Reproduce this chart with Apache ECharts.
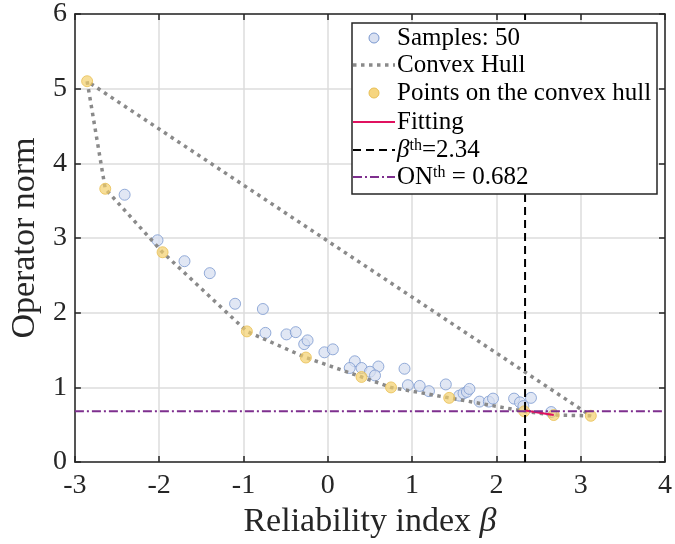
<!DOCTYPE html>
<html>
<head>
<meta charset="utf-8">
<script src="https://cdn.jsdelivr.net/npm/echarts@6/dist/echarts.min.js"></script>
<style>
html,body{margin:0;padding:0;background:#fff;}
#chart{width:675px;height:544px;}
</style>
</head>
<body>
<div id="chart"></div>
<script>
// ---- data ----
var xTicks = [-3, -2, -1, 0, 1, 2, 3, 4];
var yTicks = [0, 1, 2, 3, 4, 5, 6];

var samplesX = [-2.41, -2.02, -1.70, -1.40, -1.10, -0.77, -0.74, -0.49, -0.38, -0.28, -0.24, -0.04, 0.06, 0.32, 0.26, 0.40, 0.60, 0.50, 0.56, 0.91, 0.95, 1.09, 1.20, 1.40, 1.56, 1.61, 1.65, 1.68, 1.80, 1.91, 1.96, 2.21, 2.28, 2.32, 2.41, 2.65];
var samplesY = [3.58, 2.97, 2.69, 2.53, 2.12, 2.05, 1.73, 1.71, 1.74, 1.58, 1.63, 1.47, 1.51, 1.35, 1.26, 1.26, 1.28, 1.21, 1.16, 1.25, 1.03, 1.02, 0.95, 1.04, 0.89, 0.92, 0.94, 0.98, 0.81, 0.81, 0.85, 0.85, 0.80, 0.75, 0.86, 0.67];

var hullX = [-2.855, -2.64, -1.96, -0.96, -0.26, 0.40, 0.75, 1.44, 2.33, 2.68, 3.12];
var hullY = [5.10, 3.66, 2.81, 1.75, 1.40, 1.14, 1.00, 0.86, 0.68, 0.63, 0.62];

var fitX = [2.34, 2.68];
var fitY = [0.69, 0.63];

var betaTh = 2.34;
var onTh = 0.682;

// ---- build ----
function zip(a, b) { return a.map(function (v, i) { return [v, b[i]]; }); }
var hullPts = zip(hullX, hullY);
var hullLoop = hullPts.concat([hullPts[0]]);

var FONT = 'Liberation Serif';
var AX = '#262626';
var sampleFill = 'rgba(214,222,240,0.9)';
var sampleBorder = '#7a98d0';
var hullFill = 'rgba(244,206,104,0.85)';
var hullBorder = '#e8bf55';
var hullLine = '#8a8a8a';
var fitColor = '#e0115f';
var purple = '#7e2f8e';

var chart = echarts.init(document.getElementById('chart'), null, {renderer: 'canvas'});

var baseAxis = {
  type: 'value',
  axisLine: {show: true, onZero: false, lineStyle: {color: AX, width: 1.5}},
  axisTick: {show: true, inside: true, length: 6, lineStyle: {color: AX, width: 1.5}},
  splitLine: {show: false},
  axisLabel: {show: false}
};

var option = {
  animation: false,
  grid: {left: 71, right: 9, top: 14, bottom: 77, containLabel: false},
  xAxis: [
    Object.assign({}, baseAxis, {
      position: 'bottom', min: xTicks[0], max: xTicks[xTicks.length - 1], interval: 1,
      splitLine: {show: true, lineStyle: {color: '#dcdcdc', width: 1.5}},
      axisLabel: {show: true, fontFamily: FONT, fontSize: 28, color: AX, margin: 10},
      name: 'Reliability index {b|β}', nameLocation: 'middle', nameGap: 33,
      nameTextStyle: {fontFamily: FONT, fontSize: 34, color: AX,
        rich: {b: {fontFamily: FONT, fontSize: 34, fontStyle: 'italic', color: AX}}}
    }),
    Object.assign({}, baseAxis, {position: 'top', min: xTicks[0], max: xTicks[xTicks.length - 1], interval: 1})
  ],
  yAxis: [
    Object.assign({}, baseAxis, {
      position: 'left', min: yTicks[0], max: yTicks[yTicks.length - 1], interval: 1,
      splitLine: {show: true, lineStyle: {color: '#dcdcdc', width: 1.5}},
      axisLabel: {show: true, fontFamily: FONT, fontSize: 28, color: AX, margin: 8},
      name: 'Operator norm', nameLocation: 'middle', nameGap: 30,
      nameTextStyle: {fontFamily: FONT, fontSize: 34, color: AX}
    }),
    Object.assign({}, baseAxis, {position: 'right', min: yTicks[0], max: yTicks[yTicks.length - 1], interval: 1})
  ],
  series: [
    {
      name: 'Samples', type: 'scatter', data: zip(samplesX, samplesY), symbolSize: 11, z: 2,
      itemStyle: {color: sampleFill, borderColor: sampleBorder, borderWidth: 1}
    },
    {
      name: 'Convex Hull', type: 'line', data: hullLoop, showSymbol: false, symbol: 'none', z: 3,
      lineStyle: {color: hullLine, width: 3.5, type: [3.5, 4.5]}
    },
    {
      name: 'Points on the convex hull', type: 'scatter', data: hullPts, symbolSize: 11, z: 4,
      itemStyle: {color: hullFill, borderColor: hullBorder, borderWidth: 1}
    },
    {
      name: 'Fitting', type: 'line', data: zip(fitX, fitY), symbol: 'none', z: 5,
      lineStyle: {color: fitColor, width: 2}
    },
    {
      name: 'beta', type: 'line', data: [[betaTh, yTicks[0]], [betaTh, yTicks[yTicks.length - 1]]], symbol: 'none', z: 6,
      lineStyle: {color: '#000', width: 2, type: [8, 5]}
    },
    {
      name: 'ON', type: 'line', data: [[xTicks[0], onTh], [xTicks[xTicks.length - 1], onTh]], symbol: 'none', z: 7,
      lineStyle: {color: purple, width: 2, type: [9, 3, 2, 3]}
    }
  ],
  graphic: buildLegend()
};

function buildLegend() {
  var L = 352, T = 23, W = 305, H = 171;
  var rows = [38, 65, 93, 122, 150, 177];
  var ix1 = 353, ix2 = 395, icx = 374, tx = 397;
  var fs = 25;
  var rich = {
    i: {fontFamily: FONT, fontSize: fs, fontStyle: 'italic', fill: '#000'},
    s: {fontFamily: FONT, fontSize: 16, fill: '#000', verticalAlign: 'top'},
    n: {fontFamily: FONT, fontSize: fs, fill: '#000'}
  };
  function txt(y, t) {
    return {type: 'text', x: tx, y: y, z: 101,
      style: {text: t, fontFamily: FONT, fontSize: fs, fill: '#000', verticalAlign: 'middle', align: 'left', rich: rich}};
  }
  function ln(y, color, w, dash) {
    return {type: 'line', z: 101, shape: {x1: ix1, y1: y, x2: ix2, y2: y},
      style: {stroke: color, lineWidth: w, lineDash: dash || null}};
  }
  return [
    {type: 'rect', z: 100, shape: {x: L, y: T, width: W, height: H},
      style: {fill: '#fff', stroke: AX, lineWidth: 1.5}},
    {type: 'circle', z: 101, shape: {cx: icx, cy: rows[0], r: 5}, style: {fill: sampleFill, stroke: sampleBorder, lineWidth: 1}},
    txt(rows[0], 'Samples: 50'),
    ln(rows[1], hullLine, 3.5, [3.5, 4.5]),
    txt(rows[1], 'Convex Hull'),
    {type: 'circle', z: 101, shape: {cx: icx, cy: rows[2], r: 5}, style: {fill: hullFill, stroke: hullBorder, lineWidth: 1}},
    txt(rows[2], 'Points on the convex hull'),
    ln(rows[3], fitColor, 2),
    txt(rows[3], 'Fitting'),
    ln(rows[4], '#000', 2, [8, 5]),
    txt(rows[4], '{i|β}{s|th}=2.34'),
    ln(rows[5], purple, 2, [9, 3, 2, 3]),
    txt(rows[5], '{n|ON}{s|th} = 0.682')
  ];
}

chart.setOption(option);
</script>
</body>
</html>
